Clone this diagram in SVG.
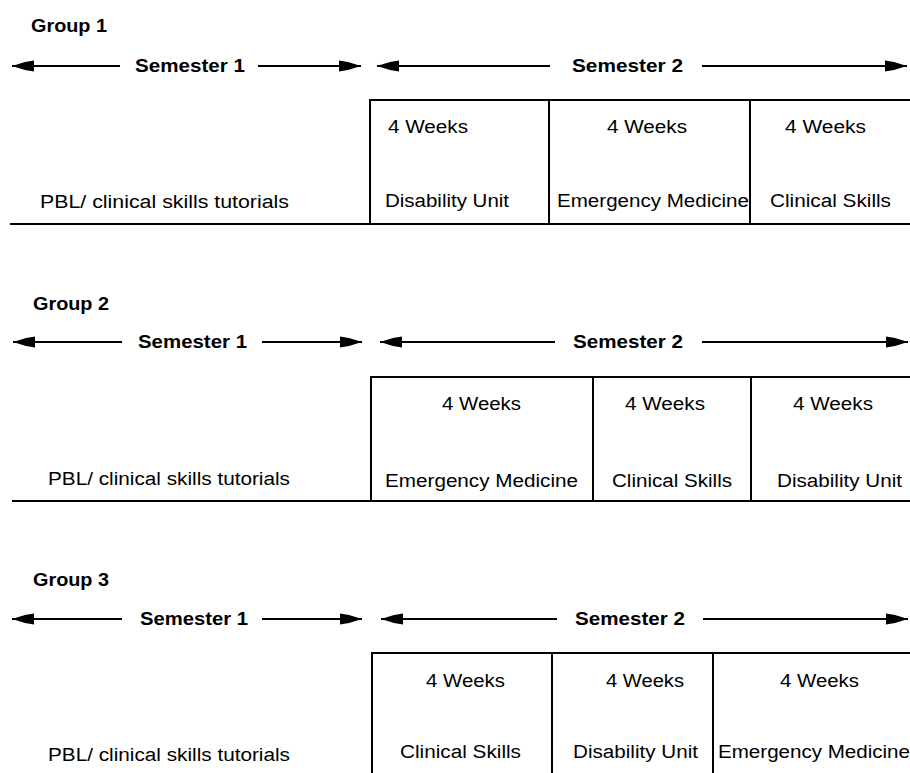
<svg xmlns="http://www.w3.org/2000/svg" width="910" height="773" viewBox="0 0 910 773">
<style>
text{font-family:"Liberation Sans",Arial,sans-serif;fill:#000;}
.b{font-weight:bold;font-size:18px;}
.t{font-size:18px;}
.cell{fill:none;stroke:#000;stroke-width:2;}
.base{stroke:#000;stroke-width:2;}
.arr{stroke:#000;stroke-width:2;fill:none;}
</style>
<defs>
<marker id="ah" markerUnits="userSpaceOnUse" markerWidth="22" markerHeight="12" viewBox="0 -6 22 12" refX="22" refY="0" orient="auto-start-reverse">
<path d="M0,-5.5 L9,-4 L22,0 L9,4 L0,5.5 z" fill="#000"/>
</marker>
</defs>
<rect width="910" height="773" fill="#fff"/>

<g id="connectors">
<line class="arr" x1="12" y1="66" x2="120" y2="66" marker-start="url(#ah)"/>
<line class="arr" x1="258" y1="66" x2="361" y2="66" marker-end="url(#ah)"/>
<line class="arr" x1="377" y1="66" x2="550" y2="66" marker-start="url(#ah)"/>
<line class="arr" x1="702" y1="66" x2="907" y2="66" marker-end="url(#ah)"/>

<line class="arr" x1="13" y1="342" x2="122" y2="342" marker-start="url(#ah)"/>
<line class="arr" x1="262" y1="342" x2="362" y2="342" marker-end="url(#ah)"/>
<line class="arr" x1="380" y1="342" x2="555" y2="342" marker-start="url(#ah)"/>
<line class="arr" x1="702" y1="342" x2="908" y2="342" marker-end="url(#ah)"/>

<line class="arr" x1="12" y1="619" x2="122" y2="619" marker-start="url(#ah)"/>
<line class="arr" x1="262" y1="619" x2="362" y2="619" marker-end="url(#ah)"/>
<line class="arr" x1="381" y1="619" x2="557" y2="619" marker-start="url(#ah)"/>
<line class="arr" x1="703" y1="619" x2="908" y2="619" marker-end="url(#ah)"/>
</g>

<g id="group1">
<text class="b" x="31" y="32" textLength="76" lengthAdjust="spacingAndGlyphs">Group 1</text>
<text class="b" x="135" y="72" textLength="110" lengthAdjust="spacingAndGlyphs">Semester 1</text>
<text class="b" x="572" y="72" textLength="111" lengthAdjust="spacingAndGlyphs">Semester 2</text>
<g id="g1-pbl">
<text class="t" x="40" y="208" textLength="249" lengthAdjust="spacingAndGlyphs">PBL/ clinical skills tutorials</text>
</g>
<line class="base" x1="10" y1="224" x2="910" y2="224"/>
<g id="g1-disability">
<rect class="cell" x="370" y="100" width="179" height="124"/>
<text class="t" x="388" y="133" textLength="80" lengthAdjust="spacingAndGlyphs">4 Weeks</text>
<text class="t" x="385" y="207" textLength="124" lengthAdjust="spacingAndGlyphs">Disability Unit</text>
</g>
<g id="g1-emergency">
<rect class="cell" x="549" y="100" width="201" height="124"/>
<text class="t" x="607" y="133" textLength="80" lengthAdjust="spacingAndGlyphs">4 Weeks</text>
<text class="t" x="557" y="207" textLength="192" lengthAdjust="spacingAndGlyphs">Emergency Medicine</text>
</g>
<g id="g1-clinical">
<rect class="cell" x="750" y="100" width="170" height="124"/>
<text class="t" x="785" y="133" textLength="81" lengthAdjust="spacingAndGlyphs">4 Weeks</text>
<text class="t" x="770" y="207" textLength="121" lengthAdjust="spacingAndGlyphs">Clinical Skills</text>
</g>
</g>

<g id="group2">
<text class="b" x="33" y="310" textLength="76" lengthAdjust="spacingAndGlyphs">Group 2</text>
<text class="b" x="138" y="348" textLength="109" lengthAdjust="spacingAndGlyphs">Semester 1</text>
<text class="b" x="573" y="348" textLength="110" lengthAdjust="spacingAndGlyphs">Semester 2</text>
<g id="g2-pbl">
<text class="t" x="48" y="485" textLength="242" lengthAdjust="spacingAndGlyphs">PBL/ clinical skills tutorials</text>
</g>
<line class="base" x1="12" y1="501" x2="910" y2="501"/>
<g id="g2-emergency">
<rect class="cell" x="371" y="377" width="222" height="124"/>
<text class="t" x="442" y="410" textLength="79" lengthAdjust="spacingAndGlyphs">4 Weeks</text>
<text class="t" x="385" y="487" textLength="193" lengthAdjust="spacingAndGlyphs">Emergency Medicine</text>
</g>
<g id="g2-clinical">
<rect class="cell" x="593" y="377" width="158" height="124"/>
<text class="t" x="625" y="410" textLength="80" lengthAdjust="spacingAndGlyphs">4 Weeks</text>
<text class="t" x="612" y="487" textLength="120" lengthAdjust="spacingAndGlyphs">Clinical Skills</text>
</g>
<g id="g2-disability">
<rect class="cell" x="751" y="377" width="170" height="124"/>
<text class="t" x="793" y="410" textLength="80" lengthAdjust="spacingAndGlyphs">4 Weeks</text>
<text class="t" x="777" y="487" textLength="125" lengthAdjust="spacingAndGlyphs">Disability Unit</text>
</g>
</g>

<g id="group3">
<text class="b" x="33" y="586" textLength="76" lengthAdjust="spacingAndGlyphs">Group 3</text>
<text class="b" x="140" y="625" textLength="108" lengthAdjust="spacingAndGlyphs">Semester 1</text>
<text class="b" x="575" y="625" textLength="110" lengthAdjust="spacingAndGlyphs">Semester 2</text>
<g id="g3-pbl">
<text class="t" x="48" y="761" textLength="242" lengthAdjust="spacingAndGlyphs">PBL/ clinical skills tutorials</text>
</g>
<g id="g3-clinical">
<rect class="cell" x="372" y="653" width="180" height="140"/>
<text class="t" x="426" y="687" textLength="79" lengthAdjust="spacingAndGlyphs">4 Weeks</text>
<text class="t" x="400" y="758" textLength="121" lengthAdjust="spacingAndGlyphs">Clinical Skills</text>
</g>
<g id="g3-disability">
<rect class="cell" x="552" y="653" width="161" height="140"/>
<text class="t" x="606" y="687" textLength="78" lengthAdjust="spacingAndGlyphs">4 Weeks</text>
<text class="t" x="573" y="758" textLength="125" lengthAdjust="spacingAndGlyphs">Disability Unit</text>
</g>
<g id="g3-emergency">
<rect class="cell" x="713" y="653" width="210" height="140"/>
<text class="t" x="780" y="687" textLength="79" lengthAdjust="spacingAndGlyphs">4 Weeks</text>
<text class="t" x="718" y="758" textLength="192" lengthAdjust="spacingAndGlyphs">Emergency Medicine</text>
</g>
</g>
</svg>
